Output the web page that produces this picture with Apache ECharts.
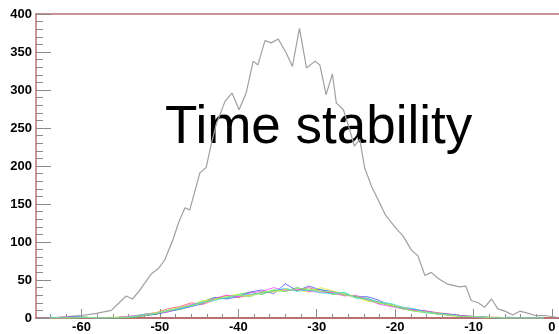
<!DOCTYPE html>
<html><head><meta charset="utf-8">
<script src="https://cdn.jsdelivr.net/npm/echarts@6/dist/echarts.min.js"></script>
<style>html,body{margin:0;padding:0;background:#fff}#c{width:559px;height:334px}</style>
</head><body><div id="c"></div>
<script>
const titleText = "Time stability";
const xMajorTicks = [-60,-50,-40,-30,-20,-10,0];
const xMinorTicks = [-64,-62,-60,-58,-56,-54,-52,-50,-48,-46,-44,-42,-40,-38,-36,-34,-32,-30,-28,-26,-24,-22,-20,-18,-16,-14,-12,-10,-8,-6,-4,-2,0];
const yTickLabels = [0,50,100,150,200,250,300,350,400];

const grayX = [-65.5,-64,-62.8,-60.2,-58.1,-56.2,-55.1,-54.3,-53.5,-52.6,-51.1,-50.2,-49.4,-48.3,-47.6,-46.8,-46.2,-44.9,-44.1,-43.4,-42.8,-41.7,-40.8,-39.9,-39.0,-38.1,-37.5,-36.6,-35.8,-34.9,-33.9,-33.1,-32.2,-31.3,-30.2,-29.6,-28.8,-28.0,-27.5,-26.6,-25.8,-25.2,-24.5,-23.9,-23.0,-22.0,-21.2,-19.8,-19.0,-17.9,-17.1,-16.2,-15.4,-14.5,-13.4,-12.6,-11.8,-11.0,-10.3,-9.4,-8.6,-7.7,-6.9,-6.0,-5.0,-4.1,-3.0,-2.0,-0.7,0.6];
const grayY = [0,0,1,3,6,10,21,29,25,36,58,65,76,104,126,145,142,191,198,231,255,285,296,274,296,338,333,365,362,367,349,331,381,329,338,333,294,321,283,274,248,226,235,198,173,152,135,117,108,89,82,56,60,52,45,43,41,42,23,20,14,25,12,9,4,9,6,3,3,1];

const chX = [-64,-62.5,-61,-59.5,-58,-56.5,-55,-53.5,-52,-50.5,-49,-47.5,-46,-44.5,-43,-41.5,-40,-38.5,-37,-35.5,-34,-32.5,-31,-29.5,-28,-26.5,-25,-23.5,-22,-20.5,-19,-17.5,-16,-14.5,-13,-11.5,-10,-8.5,-7,-5.5,-4,-2.5,-1];
const chRed     = [0,0,1,0, 0,0,1,2,5,7,12,15,20,18,24,30,27,30,33,35,38,36,40,35,33,30,29,24,21,16,14,11,9,7,5,3,2,1,1,0,0,0,0];
const chGreen   = [0,1,0,0, 0,0,0,1,3,5,9,11,16,22,27,26,31,34,31,37,35,40,36,38,31,33,27,26,19,18,12,9,7,5,4,3,1,1,0,0,0,0,0];
const chBlue    = [1,0,2,1, 0,0,1,1,3,5,8,12,15,19,27,25,28,34,37,32,45,36,42,37,35,31,28,28,23,16,13,11,9,6,5,3,2,1,0,1,0,0,0];
const chYellow  = [0,0,0,1, 0,1,1,2,4,7,10,14,17,23,24,29,31,29,35,34,38,37,34,40,36,31,27,22,20,17,14,9,8,6,3,2,2,0,1,0,0,0,0];
const chMagenta = [0,1,1,0, 0,0,1,3,4,6,8,13,18,20,26,30,28,33,35,40,36,38,35,34,34,29,30,24,18,15,12,10,9,5,4,3,1,1,0,0,0,0,0];
const chCyan    = [1,0,0,1, 0,0,0,2,5,6,10,12,17,21,23,27,30,31,33,36,39,35,37,33,32,34,26,25,21,19,14,12,7,6,4,2,2,1,0,0,0,0,0];
const chLgreen  = [0,0,1,1, 0,0,1,1,3,6,9,14,16,20,25,28,30,28,34,36,35,39,38,35,35,30,29,23,20,16,12,9,8,5,4,2,2,1,0,0,0,0,0];

const zip = (xs, ys) => xs.map((x, i) => [x, ys[i]]);
const chSeries = [
  [chRed, '#ff5555'], [chGreen, '#33cc33'], [chBlue, '#4455ff'], [chYellow, '#e8e830'],
  [chMagenta, '#ff44ff'], [chCyan, '#33e0e0'], [chLgreen, '#88ee66']
];

const axisColor = '#b87070';
const tickColor = '#8a8a8a';
const XMIN = -65.8, XMAX = 0.9;

const chart = echarts.init(document.getElementById('c'), null, {renderer: 'canvas'});
chart.setOption({
  animation: false,
  backgroundColor: '#ffffff',
  grid: {left: 36, right: 0, top: 14, bottom: 15},
  graphic: [{
    type: 'text', left: 165, top: 102, z: 1,
    style: {text: titleText, font: 'normal 53px "Liberation Sans", Arial, sans-serif', fill: '#000'}
  }],
  xAxis: [{
    type: 'value', min: XMIN, max: XMAX, position: 'bottom',
    axisLine: {show: true, onZero: false, lineStyle: {color: axisColor, width: 2}},
    axisTick: {show: true, inside: true, length: 9, customValues: xMajorTicks, lineStyle: {color: tickColor}},
    axisLabel: {customValues: xMajorTicks, color: '#000', fontWeight: 'bold', fontSize: 13, margin: 3,
      fontFamily: '"Liberation Sans", Arial, sans-serif'},
    splitLine: {show: false}
  }, {
    type: 'value', min: XMIN, max: XMAX, position: 'bottom',
    axisLine: {show: false},
    axisTick: {show: true, inside: true, length: 4, customValues: xMinorTicks, lineStyle: {color: tickColor}},
    axisLabel: {show: false}, splitLine: {show: false}
  }, {
    type: 'value', min: XMIN, max: XMAX, position: 'top',
    axisLine: {show: true, lineStyle: {color: axisColor, width: 1.5}},
    axisTick: {show: false}, axisLabel: {show: false}, splitLine: {show: false}
  }],
  yAxis: [{
    type: 'value', min: 0, max: 400, interval: 50,
    axisLine: {show: true, onZero: false, lineStyle: {color: axisColor, width: 1.5}},
    axisTick: {show: true, inside: true, length: 15, lineStyle: {color: tickColor}},
    minorTick: {show: true, splitNumber: 5, length: 7, lineStyle: {color: tickColor}},
    axisLabel: {color: '#000', fontWeight: 'bold', fontSize: 13, margin: 4,
      fontFamily: '"Liberation Sans", Arial, sans-serif',
      formatter: v => yTickLabels.includes(v) ? String(v) : ''},
    splitLine: {show: false}
  }],
  series: [
    {type: 'line', xAxisIndex: 0, data: zip(grayX, grayY), showSymbol: false, symbol: 'none',
     lineStyle: {color: '#a0a0a0', width: 1.2}, z: 3}
  ].concat(chSeries.map(([ys, c]) => ({
    type: 'line', xAxisIndex: 0, data: zip(chX, ys), showSymbol: false, symbol: 'none',
    lineStyle: {color: c, width: 1, opacity: 0.8}, z: 4
  })))
});
</script>
</body></html>
